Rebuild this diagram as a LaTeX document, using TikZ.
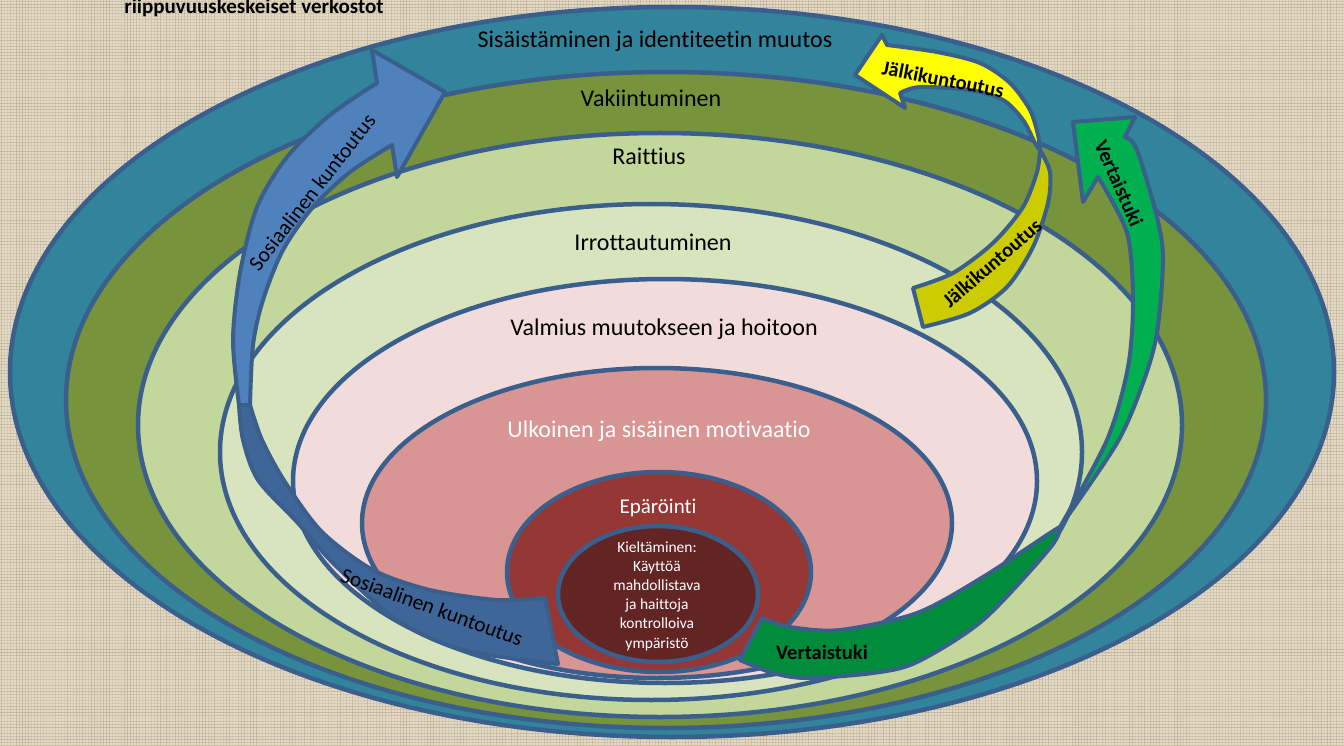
\documentclass[tikz,border=0pt]{standalone}
\usepackage{fontspec}
\setmainfont[Ligatures=NoCommon]{Carlito}
\definecolor{bg}{HTML}{E3D9C5}
\definecolor{thread}{HTML}{B3A58B}
\definecolor{bord}{HTML}{3A5F8C}
\definecolor{cTeal}{HTML}{31849B}
\definecolor{cOlive}{HTML}{77933C}
\definecolor{cLgreen}{HTML}{C3D69B}
\definecolor{cPgreen}{HTML}{D7E4BD}
\definecolor{cPpink}{HTML}{F2DCDB}
\definecolor{cPink}{HTML}{D99594}
\definecolor{cRed}{HTML}{953735}
\definecolor{cDred}{HTML}{632523}
\definecolor{blueL}{HTML}{4F81BD}
\definecolor{blueD}{HTML}{3E6698}
\definecolor{yelL}{HTML}{FFFF00}
\definecolor{yelD}{HTML}{CCCC00}
\definecolor{grnL}{HTML}{00B050}
\definecolor{grnD}{HTML}{008C3A}
\begin{document}
\begin{tikzpicture}[x=1pt,y=-1pt,
  ring/.style={draw=bord, line width=4.5pt},
  arr/.style={draw=bord, line width=4pt, line join=round},
  lbl/.style={font=\fontsize{24}{28}\selectfont, text=black, inner sep=0pt, anchor=base},
  wlbl/.style={lbl, text=white},
  albl/.style={font=\fontsize{21.5}{24}\selectfont, text=black, inner sep=0pt},
  blbl/.style={font=\bfseries\fontsize{20.5}{24}\selectfont, text=black, inner sep=0pt},
  small/.style={font=\fontsize{15.5}{19.2}\selectfont, text=white, align=center, inner sep=0pt}]
\useasboundingbox (0,0) rectangle (1344,746);
\clip (0,0) rectangle (1344,746);
\fill[bg] (0,0) rectangle (1344,746);
% linen texture
\pgfmathsetseed{7}
\foreach \i in {1,4,...,1344} {
  \pgfmathsetmacro{\op}{0.15+0.45*rnd}
  \draw[thread, line width=0.9pt, opacity=\op] (\i,0) -- (\i,746);
}
\foreach \j in {1,4,...,746} {
  \pgfmathsetmacro{\op}{0.15+0.45*rnd}
  \draw[thread, line width=0.9pt, opacity=\op] (0,\j) -- (1344,\j);
}

% nested ellipses
\filldraw[ring, fill=cTeal]   (672,372) ellipse [x radius=662, y radius=365];
\filldraw[ring, fill=cOlive]  (666,400) ellipse [x radius=600, y radius=328];
\filldraw[ring, fill=cLgreen] (660,425) ellipse [x radius=522, y radius=292];
\filldraw[ring, fill=cPgreen] (651,452) ellipse [x radius=431, y radius=248];
\filldraw[ring, fill=cPpink]  (665,481) ellipse [x radius=372, y radius=202];
\filldraw[ring, fill=cPink]   (657,523) ellipse [x radius=295, y radius=155];
\filldraw[ring, fill=cRed]    (659,572) ellipse [x radius=152, y radius=100];
\filldraw[ring, fill=cDred]   (658,594) ellipse [x radius=100, y radius=68];

% blue arrow (Sosiaalinen kuntoutus)
\filldraw[arr, fill=blueD] plot[smooth] coordinates {(239,405) (243,440) (258,480) (297,522) (335,565) (397,620) (463,650) (558,664)}
  -- (545,598)
  -- plot[smooth] coordinates {(545,598) (497,600) (430,590) (373,570) (322,532) (285,482) (262,440) (250,405)} -- cycle;
\filldraw[arr, fill=blueL] plot[smooth] coordinates {(239,405) (233,340) (240,273) (257,207) (287,157) (330,115) (377,83)}
  -- (372,50) -- (445,92) -- (397,177) -- (392,145)
  -- plot[smooth] coordinates {(392,145) (350,172) (313,207) (283,250) (263,300) (253,345) (250,405)} -- cycle;

% yellow arrow (Jälkikuntoutus)
\filldraw[arr, fill=yelD] plot[smooth] coordinates {(1040,150) (1050,172) (1048,203) (1033,247) (1007,287) (970,313) (923,327)}
  -- (913,288)
  -- plot[smooth] coordinates {(913,288) (953,273) (993,243) (1023,207) (1037,172) (1040,150)} -- cycle;
\filldraw[arr, fill=yelL] plot[smooth] coordinates {(1040,150) (1038,135) (1030,110) (1010,83) (980,63) (937,52) (887,45)}
  -- (882,35) -- (855,75) -- (905,108) -- (900,93)
  -- plot[smooth] coordinates {(900,93) (920,87) (970,90) (1003,100) (1023,120) (1035,143) (1040,150)} -- cycle;

% green arrow (Vertaistuki)
\filldraw[arr, fill=grnD] plot[smooth] coordinates {(1060,527) (1050,548) (983,620) (917,662) (873,673) (807,678) (773,673) (740,660)}
  -- (762,618)
  -- plot[smooth] coordinates {(762,618) (790,627) (840,630) (917,613) (983,577) (1050,533) (1060,527)} -- cycle;
\filldraw[arr, fill=grnL] plot[smooth] coordinates {(1060,527) (1117,443) (1143,383) (1157,333) (1163,260) (1157,217) (1137,150) (1125,137)}
  -- (1135,117) -- (1073,122) -- (1083,202) -- (1098,177)
  -- plot[smooth] coordinates {(1098,177) (1127,233) (1133,300) (1128,367) (1107,440) (1060,527)} -- cycle;

% ring labels
\node[font=\bfseries\fontsize{21}{24}\selectfont, inner sep=0pt, anchor=base] (title) at (254,14) {riippuvuuskeskeiset verkostot};
\node[lbl] (l1) at (655,48) {Sisäistäminen ja identiteetin muutos};
\node[lbl] (l2) at (651,107) {Vakiintuminen};
\node[lbl] (l3) at (649,165) {Raittius};
\node[lbl] (l4) at (653,251) {Irrottautuminen};
\node[lbl] (l5) at (664,335) {Valmius muutokseen ja hoitoon};
\node[wlbl] (l6) at (659,437) {Ulkoinen ja sisäinen motivaatio};
\node[wlbl, font=\fontsize{21}{24}\selectfont] (l7) at (658,513) {Epäröinti};
\node[small] (l8) at (657,596) {Kieltäminen:\\Käyttöä\\mahdollistava\\ja haittoja\\kontrolloiva\\ympäristö};

% arrow labels
\node[albl, rotate=52] (bs1) at (312,192) {Sosiaalinen kuntoutus};
\node[albl, rotate=-20] (bs2) at (432,607) {Sosiaalinen kuntoutus};
\node[blbl, rotate=-11] (yj1) at (943,79) {Jälkikuntoutus};
\node[blbl, rotate=41] (yj2) at (992,263) {Jälkikuntoutus};
\node[blbl, rotate=-66] (gv1) at (1119,183) {Vertaistuki};
\node[blbl] (gv2) at (822,652) {Vertaistuki};
\end{tikzpicture}
\end{document}
